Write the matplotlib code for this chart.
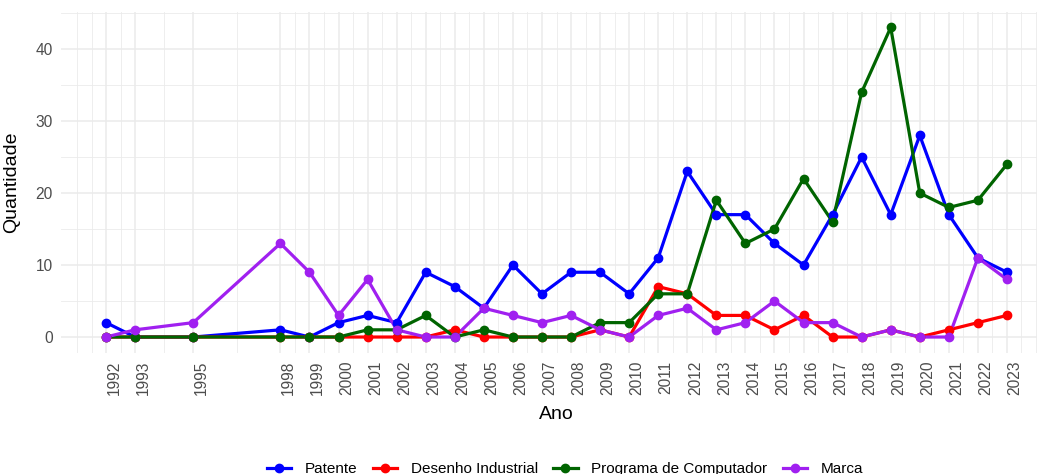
import matplotlib
matplotlib.use("Agg")
import matplotlib.pyplot as plt
from matplotlib.lines import Line2D
import matplotlib.transforms as mtransforms

years = [1992, 1993, 1995, 1998, 1999, 2000, 2001, 2002, 2003, 2004, 2005, 2006,
         2007, 2008, 2009, 2010, 2011, 2012, 2013, 2014, 2015, 2016, 2017, 2018,
         2019, 2020, 2021, 2022, 2023]

patente = [2, 0, 0, 1, 0, 2, 3, 2, 9, 7, 4, 10, 6, 9, 9, 6, 11, 23, 17, 17, 13, 10,
           17, 25, 17, 28, 17, 11, 9]
desenho = [0, 0, 0, 0, 0, 0, 0, 0, 0, 1, 0, 0, 0, 0, 1, 0, 7, 6, 3, 3, 1, 3,
           0, 0, 1, 0, 1, 2, 3]
programa = [0, 0, 0, 0, 0, 0, 1, 1, 3, 0, 1, 0, 0, 0, 2, 2, 6, 6, 19, 13, 15, 22,
            16, 34, 43, 20, 18, 19, 24]
marca = [0, 1, 2, 13, 9, 3, 8, 1, 0, 0, 4, 3, 2, 3, 1, 0, 3, 4, 1, 2, 5, 2,
         2, 0, 1, 0, 0, 11, 8]

series_names = ["Patente", "Desenho Industrial", "Programa de Computador", "Marca"]
series_values = [patente, desenho, programa, marca]
series_colors = ["#0000FF", "#FF0000", "#006400", "#A020F0"]

y_ticks = [0, 10, 20, 30, 40]
y_minor = [5, 15, 25, 35, 45]

plt.rcParams['font.family'] = ['Liberation Sans', 'DejaVu Sans']

W, H = 1037, 474
fig = plt.figure(figsize=(W / 100, H / 100), dpi=100)
left_px, right_px, top_px, bottom_px = 61, 1052, 12, 352.5
ax = fig.add_axes([left_px / W, 1 - bottom_px / H,
                   (right_px - left_px) / W, (bottom_px - top_px) / H])

# lines first, then points (like ggplot layering)
for vals, col in zip(series_values, series_colors):
    ax.plot(years, vals, color=col, lw=2.3, zorder=3)
for vals, col in zip(series_values, series_colors):
    ax.plot(years, vals, color=col, lw=0, marker='o', ms=6, zorder=4)

span = years[-1] - years[0]
ax.set_xlim(years[0] - 0.05 * span, years[-1] + 0.05 * span)
ymax = max(max(v) for v in series_values)
ax.set_ylim(-0.05 * ymax, ymax * 1.05)

ax.set_xticks(years)
ax.set_xticklabels([str(y) for y in years], rotation=90, ha='center', va='top')
minor_x = [years[0] - 1, years[0] - 0.5] + \
    [(a + b) / 2 for a, b in zip(years[:-1], years[1:])] + \
    [years[-1] + 0.5, years[-1] + 1]
ax.set_xticks(minor_x, minor=True)
ax.set_yticks(y_ticks)
ax.set_yticks(y_minor, minor=True)

ax.grid(which='major', color='#EBEBEB', lw=1.1, zorder=0)
ax.grid(which='minor', color='#EBEBEB', lw=0.6, zorder=0)
ax.set_axisbelow(True)
for s in ax.spines.values():
    s.set_visible(False)
ax.tick_params(which='both', length=0)
ax.tick_params(axis='y', labelsize=11.2, labelcolor='#4D4D4D', pad=6)
ax.tick_params(axis='x', labelsize=11.2, labelcolor='#4D4D4D', pad=6)

# shift x tick labels slightly to the right like ggplot rotated labels
offset = mtransforms.ScaledTranslation(8 / 100, 0, fig.dpi_scale_trans)
for lbl in ax.get_xticklabels():
    lbl.set_transform(lbl.get_transform() + offset)

ax.set_xlabel("Ano", fontsize=14, labelpad=8)
ax.set_ylabel("Quantidade", fontsize=14)
ax.yaxis.set_label_coords((20 - left_px) / (right_px - left_px), 0.5)

handles = [Line2D([0], [0], color=c, lw=2.3, marker='o', ms=6) for c in series_colors]
fig.legend(handles, series_names, loc='center', ncol=4, frameon=False,
           bbox_to_anchor=(565 / W, 1 - 469 / H), fontsize=11,
           handlelength=1.6, handletextpad=0.9, columnspacing=1.0)

fig.savefig("out.png", dpi=100)
